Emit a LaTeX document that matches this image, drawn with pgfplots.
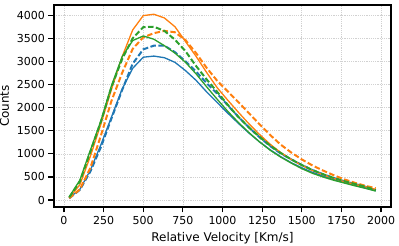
\documentclass[border=0pt]{standalone}
\usepackage{pgfplots}
\pgfplotsset{compat=1.18}
\usepackage{fontspec}
\setmainfont{DejaVu Sans}
\definecolor{cA}{HTML}{1F77B4}
\definecolor{cB}{HTML}{FF7F0E}
\definecolor{cC}{HTML}{2CA02C}
\begin{document}
\begin{tikzpicture}
\begin{axis}[name=ax, at={(0,0)}, anchor=south west,
  scale only axis, width=337pt, height=202pt,
  xmin=-63, xmax=2063, ymin=-150, ymax=4220,
  xtick={0,250,...,2000}, ytick={0,500,...,4000},
  scaled ticks=false,
  /pgf/number format/assume math mode=true,
  /pgf/number format/1000 sep={},
  xticklabel style={font=\fontsize{11}{13}\selectfont},
  yticklabel style={font=\fontsize{11}{13}\selectfont},
  xlabel={Relative Velocity [Km/s]}, ylabel={Counts},
  tick align=outside, major tick length=5.5pt,
  tick style={black, line width=1.2pt},
  xtick pos=bottom, ytick pos=left,
  axis line style={black, line width=1.6pt},
  grid=major, major grid style={black!18, line width=0.6pt, dash pattern=on 1.2pt off 1pt},
  every axis x label/.style={at={(ticklabel cs:0.5)}, anchor=north, yshift=-1pt, font=\fontsize{12}{14}\selectfont},
  every axis y label/.style={at={(ticklabel cs:0.5)}, anchor=south, rotate=90, yshift=1pt, font=\fontsize{12}{14}\selectfont},
  solid line/.style={line width=1.3pt, mark=none},
  dash line/.style={line width=2pt, mark=none, dash pattern=on 5.5pt off 2.5pt},
]
% blue solid
\addplot[cA, solid line] coordinates {
(33.3,50)(100,230)(166.7,650)(233.3,1200)(300,1800)(366.7,2400)(433.3,2850)(500,3090)(566.7,3115)(633.3,3080)(700,2980)(766.7,2800)(833.3,2590)(900,2340)(966.7,2110)(1033.3,1880)(1100,1660)(1166.7,1450)(1233.3,1260)(1300,1090)(1366.7,940)(1433.3,810)(1500,700)(1566.7,600)(1633.3,520)(1700,445)(1766.7,380)(1833.3,320)(1900,260)(1966.7,200)};
% blue dashed
\addplot[cA, dash line] coordinates {
(33.3,40)(100,220)(166.7,620)(233.3,1150)(300,1770)(366.7,2380)(433.3,2950)(500,3260)(566.7,3340)(633.3,3340)(700,3200)(766.7,3000)(833.3,2780)(900,2530)(966.7,2300)(1033.3,2050)(1100,1800)(1166.7,1570)(1233.3,1360)(1300,1170)(1366.7,1010)(1433.3,880)(1500,760)(1566.7,650)(1633.3,560)(1700,480)(1766.7,410)(1833.3,350)(1900,290)(1966.7,210)};
% orange solid
\addplot[cB, solid line] coordinates {
(33.3,50)(100,330)(166.7,950)(233.3,1650)(300,2400)(366.7,3100)(433.3,3680)(500,3990)(566.7,4020)(633.3,3940)(700,3750)(766.7,3430)(833.3,3110)(900,2760)(966.7,2430)(1033.3,2160)(1100,1900)(1166.7,1650)(1233.3,1420)(1300,1210)(1366.7,1030)(1433.3,880)(1500,750)(1566.7,640)(1633.3,550)(1700,470)(1766.7,400)(1833.3,340)(1900,290)(1966.7,230)};
% orange dashed
\addplot[cB, dash line] coordinates {
(33.3,40)(100,230)(166.7,700)(233.3,1400)(300,2150)(366.7,2750)(433.3,3270)(500,3520)(566.7,3610)(633.3,3660)(700,3630)(766.7,3460)(833.3,3180)(900,2860)(966.7,2580)(1033.3,2350)(1100,2120)(1166.7,1880)(1233.3,1640)(1300,1410)(1366.7,1200)(1433.3,1030)(1500,880)(1566.7,750)(1633.3,640)(1700,540)(1766.7,450)(1833.3,375)(1900,310)(1966.7,255)};
% green solid
\addplot[cC, solid line] coordinates {
(33.3,70)(100,430)(166.7,1080)(233.3,1720)(300,2480)(366.7,3100)(433.3,3450)(500,3550)(566.7,3480)(633.3,3340)(700,3180)(766.7,2980)(833.3,2730)(900,2450)(966.7,2180)(1033.3,1920)(1100,1680)(1166.7,1460)(1233.3,1260)(1300,1080)(1366.7,930)(1433.3,800)(1500,680)(1566.7,580)(1633.3,500)(1700,430)(1766.7,370)(1833.3,310)(1900,255)(1966.7,195)};
% green dashed
\addplot[cC, dash line] coordinates {
(33.3,60)(100,400)(166.7,1050)(233.3,1700)(300,2450)(366.7,3050)(433.3,3500)(500,3740)(566.7,3750)(633.3,3660)(700,3470)(766.7,3220)(833.3,2900)(900,2610)(966.7,2340)(1033.3,2060)(1100,1800)(1166.7,1570)(1233.3,1370)(1300,1180)(1366.7,1020)(1433.3,880)(1500,760)(1566.7,650)(1633.3,560)(1700,480)(1766.7,410)(1833.3,350)(1900,290)(1966.7,215)};
\end{axis}
\pgfresetboundingbox
\path ([xshift=-54pt,yshift=-39pt]ax.south west) rectangle ([xshift=8pt,yshift=5pt]ax.north east);
\end{tikzpicture}
\end{document}
